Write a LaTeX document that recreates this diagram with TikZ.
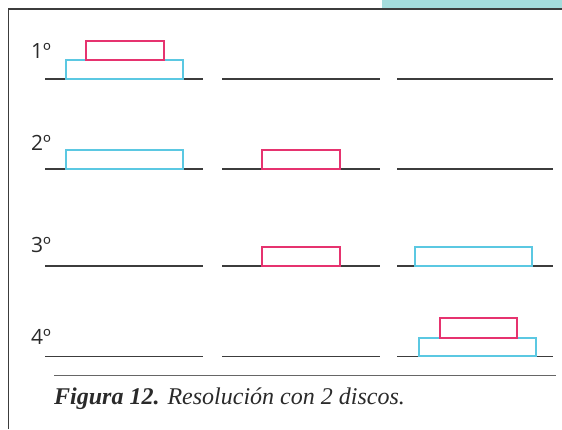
\documentclass[tikz,border=0pt]{standalone}
\usepackage{fontspec}
\setmainfont{Liberation Serif}
\newfontfamily\labfont{Open Sans}
\definecolor{discblue}{HTML}{5BC8E2}
\definecolor{discpink}{HTML}{E6336F}
\definecolor{tabteal}{HTML}{A4DCDC}
\definecolor{rulegray}{HTML}{3C3C3C}
\definecolor{txtgray}{HTML}{2A2A2A}
\begin{document}
\begin{tikzpicture}[x=1pt,y=-1pt,
  baseln/.style={draw=rulegray,line width=1.3pt},
  bigdisc/.style={draw=discblue,line width=2pt},
  smalldisc/.style={draw=discpink,line width=2pt},
  steplabel/.style={anchor=base west,inner sep=0pt,font=\labfont\fontsize{21}{21}\selectfont,text=txtgray},
  frameline/.style={draw=rulegray,line width=1.4pt}]
\useasboundingbox (0,0) rectangle (562,429);
% teal tab
\fill[tabteal] (382,0) rectangle (562,8);
% frame
\draw[frameline] (8.7,429) -- (8.7,9) -- (562,9);
% rows: baselines
\foreach \y/\n in {79/1,169/2,266/3,356.5/4}{
  \draw[baseln] (45,\y) -- (203,\y);
  \draw[baseln] (222,\y) -- (380,\y);
  \draw[baseln] (397,\y) -- (553,\y);
}
% labels
\node[steplabel] (l1) at (31,58) {1º};
\node[steplabel] (l2) at (31,150.5) {2º};
\node[steplabel] (l3) at (31,252.5) {3º};
\node[steplabel] (l4) at (31,344) {4º};
% row 1
\draw[bigdisc] (65.7,78.5) rectangle (182.7,60.3);
\draw[smalldisc] (86.3,60.3) rectangle (163.7,40.7);
% row 2
\draw[bigdisc] (65.7,168.5) rectangle (182.7,150.3);
\draw[smalldisc] (262,168.5) rectangle (340,149.8);
% row 3
\draw[smalldisc] (262,265.5) rectangle (340,247);
\draw[bigdisc] (415,265.5) rectangle (531.7,247);
% row 4
\draw[bigdisc] (419,356) rectangle (536,337.7);
\draw[smalldisc] (440,337.7) rectangle (517,317.7);
% caption
\draw[draw=gray!80!black,line width=0.9pt] (54,375.7) -- (555.7,375.7);
\node[anchor=base west,inner sep=0pt,font=\fontsize{24}{24}\selectfont,text=txtgray] (cap) at (54,404) {\textbf{\textit{Figura 12.}} \textit{Resolución con 2 discos.}};
\end{tikzpicture}
\end{document}
